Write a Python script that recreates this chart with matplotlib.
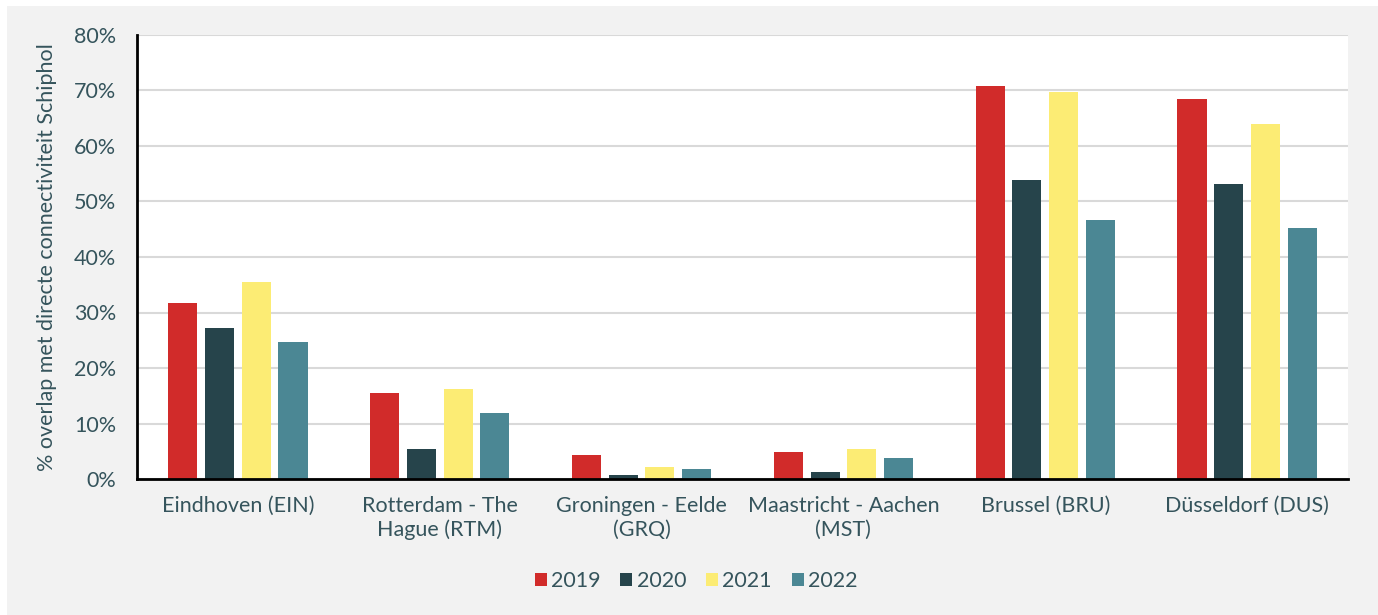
import numpy as np
import matplotlib.pyplot as plt
from matplotlib.patches import Rectangle

plt.rcParams['font.family'] = ['Lato', 'DejaVu Sans']

airports = ['Eindhoven (EIN)', 'Rotterdam - The\nHague (RTM)', 'Groningen - Eelde\n(GRQ)',
            'Maastricht - Aachen\n(MST)', 'Brussel (BRU)', 'Düsseldorf (DUS)']
years = ['2019', '2020', '2021', '2022']
v2019 = [31.7, 15.5, 4.3, 4.9, 70.8, 68.5]
v2020 = [27.2, 5.4, 0.7, 1.3, 53.9, 53.2]
v2021 = [35.5, 16.2, 2.2, 5.4, 69.8, 64.0]
v2022 = [24.7, 11.9, 1.8, 3.8, 46.7, 45.2]
colors = ['#d12b2a', '#26444b', '#fcec74', '#4b8794']

text_col = '#35545c'
fs = 15.5

fig = plt.figure(figsize=(13.78, 6.15), dpi=100, facecolor='white')
# light grey panel behind everything
bg = Rectangle((7 / 1378, 0), 1, 609 / 615, transform=fig.transFigure,
               facecolor='#f2f2f2', edgecolor='none', zorder=-10)
fig.add_artist(bg)
ax = fig.add_axes([137 / 1378, 136 / 615, 1211 / 1378, 444 / 615])
ax.set_facecolor('white')

x = np.arange(len(airports))
pitch = 0.182
width = 0.144
for i, (vals, yr) in enumerate(zip([v2019, v2020, v2021, v2022], years)):
    ax.bar(x + (i - 1.5) * pitch, vals, width, color=colors[i], label=yr, zorder=3)

ax.set_xlim(-0.5, len(airports) - 0.5)
ax.set_ylim(0, 80)
ax.set_yticks(np.arange(0, 81, 10))
ax.set_yticklabels([f'{t}%' for t in range(0, 81, 10)])
ax.yaxis.grid(True, color='#d9d9d9', linewidth=1.5, zorder=0)
ax.set_axisbelow(True)

for s in ['top', 'right']:
    ax.spines[s].set_visible(False)
for s in ['left', 'bottom']:
    ax.spines[s].set_color('black')
    ax.spines[s].set_linewidth(2)
    ax.spines[s].set_zorder(4)

ax.set_xticks(x)
ax.set_xticklabels(airports, linespacing=1.25)
ax.tick_params(axis='both', length=0, labelsize=fs, labelcolor=text_col)
ax.tick_params(axis='x', pad=12)
ax.tick_params(axis='y', pad=15)

ax.set_ylabel('% overlap met directe connectiviteit Schiphol', fontsize=fs, color=text_col, labelpad=12)

leg = ax.legend(loc='center', bbox_to_anchor=(696 / 1378, 1 - 581 / 615), bbox_transform=fig.transFigure,
                ncol=4, frameon=False, fontsize=fs, handlelength=0.56, handleheight=0.56,
                handletextpad=0.19, columnspacing=0.93)
for t in leg.get_texts():
    t.set_color(text_col)

fig.savefig('out.png', dpi=100, facecolor=fig.get_facecolor())
